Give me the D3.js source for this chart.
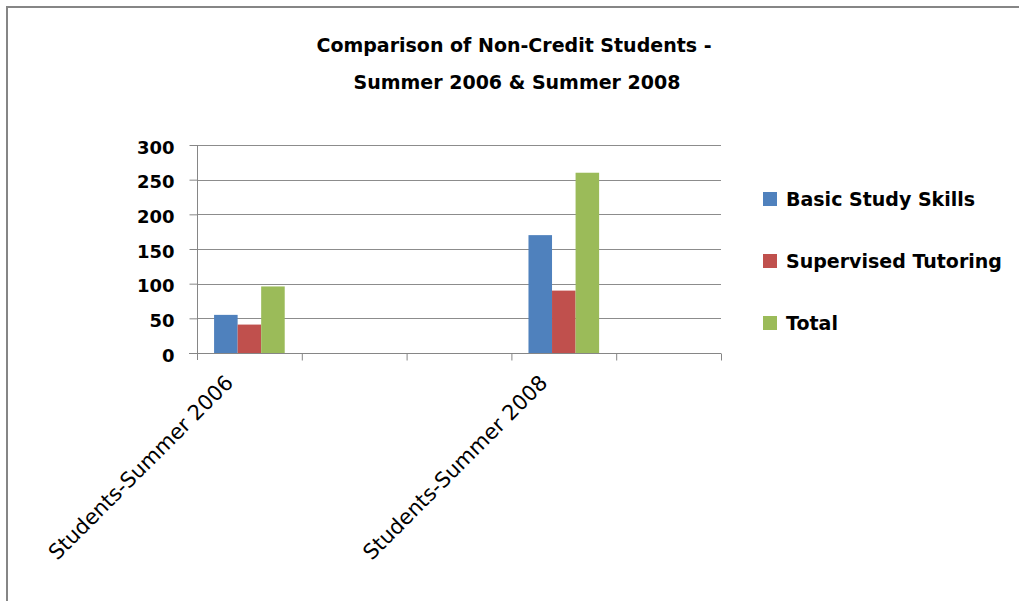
<!DOCTYPE html>
<html lang="en">
<head>
    <meta charset="UTF-8">
    <title>Comparison of Non-Credit Students</title>
    <script src="https://d3js.org/d3.v7.min.js"></script>
    <style>
        body { margin: 0; background: #fff; }
        svg { display: block; }
    </style>
</head>
<body>
    <svg width="1019" height="601"></svg>
    <script>
        const width = 1019, height = 601;

        // Chart data
        const categories = ["Students-Summer 2006", "", "", "Students-Summer 2008", ""];
        const series = ["Basic Study Skills", "Supervised Tutoring", "Total"];
        const basicStudySkills = [55, null, null, 170, null];
        const supervisedTutoring = [41, null, null, 90, null];
        const total = [96, null, null, 260, null];
        const yTicks = [0, 50, 100, 150, 200, 250, 300];
        const titleLines = ["Comparison of Non-Credit Students -", "Summer 2006 & Summer 2008"];

        const colors = ["#4F81BD", "#C0504D", "#9BBB59"];
        const values = [basicStudySkills, supervisedTutoring, total];
        const boldFont = "'DejaVu Sans', sans-serif";

        const svg = d3.select("svg");

        // outer chart border (only left/top visible)
        svg.append("rect")
            .attr("x", 7).attr("y", 7)
            .attr("width", width + 20).attr("height", height + 20)
            .attr("fill", "none")
            .attr("stroke", "#868686")
            .attr("stroke-width", 2);

        const plot = { left: 197, right: 721, top: 145, bottom: 353 };

        const x0 = d3.scaleBand()
            .domain(d3.range(categories.length))
            .range([plot.left, plot.right])
            .padding(0);

        const x1 = d3.scaleBand()
            .domain(d3.range(series.length))
            .range([x0.bandwidth() * 0.163, x0.bandwidth() * 0.837])
            .padding(0);

        const y = d3.scaleLinear()
            .domain([0, 300])
            .range([plot.bottom, plot.top]);

        // gridlines
        svg.append("g")
            .selectAll("line")
            .data(yTicks.slice(1))
            .join("line")
            .attr("x1", plot.left).attr("x2", plot.right)
            .attr("y1", d => Math.round(y(d)) + 0.5)
            .attr("y2", d => Math.round(y(d)) + 0.5)
            .attr("stroke", "#8c8c8c")
            .attr("stroke-width", 1);

        // bars
        const groups = svg.append("g")
            .selectAll("g")
            .data(categories.map((c, i) => i))
            .join("g")
            .attr("transform", i => `translate(${x0(i)},0)`);

        groups.selectAll("rect")
            .data(i => values.map((v, s) => ({ s, v: v[i] })).filter(d => d.v != null))
            .join("rect")
            .attr("x", d => x1(d.s))
            .attr("width", x1.bandwidth())
            .attr("y", d => y(d.v))
            .attr("height", d => y(0) - y(d.v))
            .attr("fill", d => colors[d.s]);

        // y axis
        const yAxis = svg.append("g")
            .attr("transform", `translate(${plot.left + 0.5},0)`)
            .call(d3.axisLeft(y).tickValues(yTicks).tickSize(8).tickPadding(15).tickSizeOuter(0));
        yAxis.select(".domain").attr("stroke", "#868686")
            .attr("d", `M0,${plot.top}V${plot.bottom + 7}`);
        yAxis.selectAll(".tick line").attr("stroke", "#868686");
        yAxis.selectAll("text")
            .attr("font-family", boldFont)
            .attr("font-weight", "bold")
            .attr("font-size", 18)
            .attr("fill", "#000")
            .attr("dy", "0.45em");

        // x axis (ticks between categories)
        const xEdge = d3.scaleLinear().domain([0, categories.length]).range([plot.left, plot.right]);
        const xAxis = svg.append("g")
            .attr("transform", `translate(0,${plot.bottom + 0.5})`)
            .call(d3.axisBottom(xEdge).tickValues(d3.range(1, categories.length + 1)).tickSize(7).tickFormat("").tickSizeOuter(0));
        xAxis.select(".domain").attr("stroke", "#868686").attr("d", `M${plot.left - 8},0H${plot.right}`);
        xAxis.selectAll(".tick line").attr("stroke", "#868686");

        // category labels rotated
        svg.append("g")
            .selectAll("text")
            .data(categories.map((c, i) => ({ c, i })).filter(d => d.c))
            .join("text")
            .attr("transform", d => `translate(${x0(d.i) + x0.bandwidth() / 2 - 15},${plot.bottom + 31}) rotate(-45)`)
            .attr("text-anchor", "end")
            .attr("font-family", "'DejaVu Sans', sans-serif")
            .attr("font-size", 21)
            .attr("fill", "#000")
            .text(d => d.c);

        // title
        svg.append("g")
            .selectAll("text")
            .data(titleLines)
            .join("text")
            .attr("x", (d, i) => i === 0 ? 514 : 517)
            .attr("y", (d, i) => 52 + i * 37)
            .attr("text-anchor", "middle")
            .attr("font-family", boldFont)
            .attr("font-weight", "bold")
            .attr("font-size", 19)
            .attr("fill", "#000")
            .text(d => d);

        // legend
        const legend = svg.append("g")
            .selectAll("g")
            .data(series)
            .join("g")
            .attr("transform", (d, i) => `translate(763,${192 + i * 62})`);
        legend.append("rect")
            .attr("width", 14).attr("height", 14)
            .attr("fill", (d, i) => colors[i]);
        legend.append("text")
            .attr("x", 23).attr("y", 14)
            .attr("font-family", boldFont)
            .attr("font-weight", "bold")
            .attr("font-size", 19)
            .attr("fill", "#000")
            .text(d => d);
    </script>
</body>
</html>
